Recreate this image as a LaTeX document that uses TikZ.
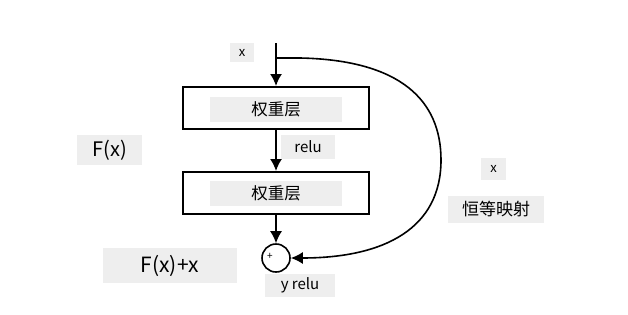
\documentclass[tikz,border=0pt]{standalone}
\usepackage{fontspec}
\setmainfont{Noto Sans CJK SC}
\usetikzlibrary{arrows.meta}
\definecolor{lblgray}{HTML}{EEEEEE}
\tikzset{
  lbl/.style={fill=lblgray,inner sep=0pt,text=black},
  layer/.style={draw=black,line width=2pt,minimum width=186pt,minimum height=42pt,inner sep=0pt},
  conn/.style={line width=1.6pt,-{Latex[length=12pt,width=12pt]}},
}
\begin{document}
\begin{tikzpicture}[x=1pt,y=-1pt]
\useasboundingbox (0,0) rectangle (628,314);
% labels
\node[lbl,minimum width=24pt,minimum height=19pt,font=\fontsize{13}{13}\selectfont] (xl) at (242,52.5) {x};
\node[layer] (b1) at (276,108) {};
\node[lbl,minimum width=132pt,minimum height=25pt,font=\fontsize{16.5}{16.5}\selectfont] (t1) at (276,109.5) {权重层};
\node[layer] (b2) at (276,193) {};
\node[lbl,minimum width=132pt,minimum height=25pt,font=\fontsize{16.5}{16.5}\selectfont] (t2) at (276,193.5) {权重层};
\node[lbl,minimum width=54pt,minimum height=24pt,font=\fontsize{15}{15}\selectfont] (relu) at (308,147) {relu};
\node[draw=black,circle,line width=1.6pt,minimum size=28pt,inner sep=0pt] (add) at (276,258) {};
\node[font=\fontsize{10}{10}\selectfont,inner sep=0pt] (plus) at (270,256) {+};
\node[lbl,minimum width=70pt,minimum height=23pt,font=\fontsize{15}{15}\selectfont] (yrelu) at (300,285.5) {y relu};
\node[lbl,minimum width=65pt,minimum height=30pt,font=\fontsize{20}{20}\selectfont] (fx) at (109.5,150) {F(x)};
\node[lbl,minimum width=134pt,minimum height=35pt,font=\fontsize{21}{21}\selectfont] (fxx) at (170,265.5) {F(x)+x};
\node[lbl,minimum width=25pt,minimum height=22pt,font=\fontsize{13}{13}\selectfont] (xr) at (493.5,169) {x};
\node[lbl,minimum width=96pt,minimum height=27pt,font=\fontsize{17}{17}\selectfont] (id) at (496,209.5) {恒等映射};
% connectors
\coordinate (top) at (276,43);
\coordinate (br) at (276,58);
\draw[conn] (top) -- (b1.north);
\draw[conn] (b1.south) -- (b2.north);
\draw[conn] (b2.south) -- (add.north);
\draw[conn] (br) -- (300,58) .. controls (400,60) and (441,100) .. (441,160)
  .. controls (441,228) and (385,258) .. (add.east);
\end{tikzpicture}
\end{document}
